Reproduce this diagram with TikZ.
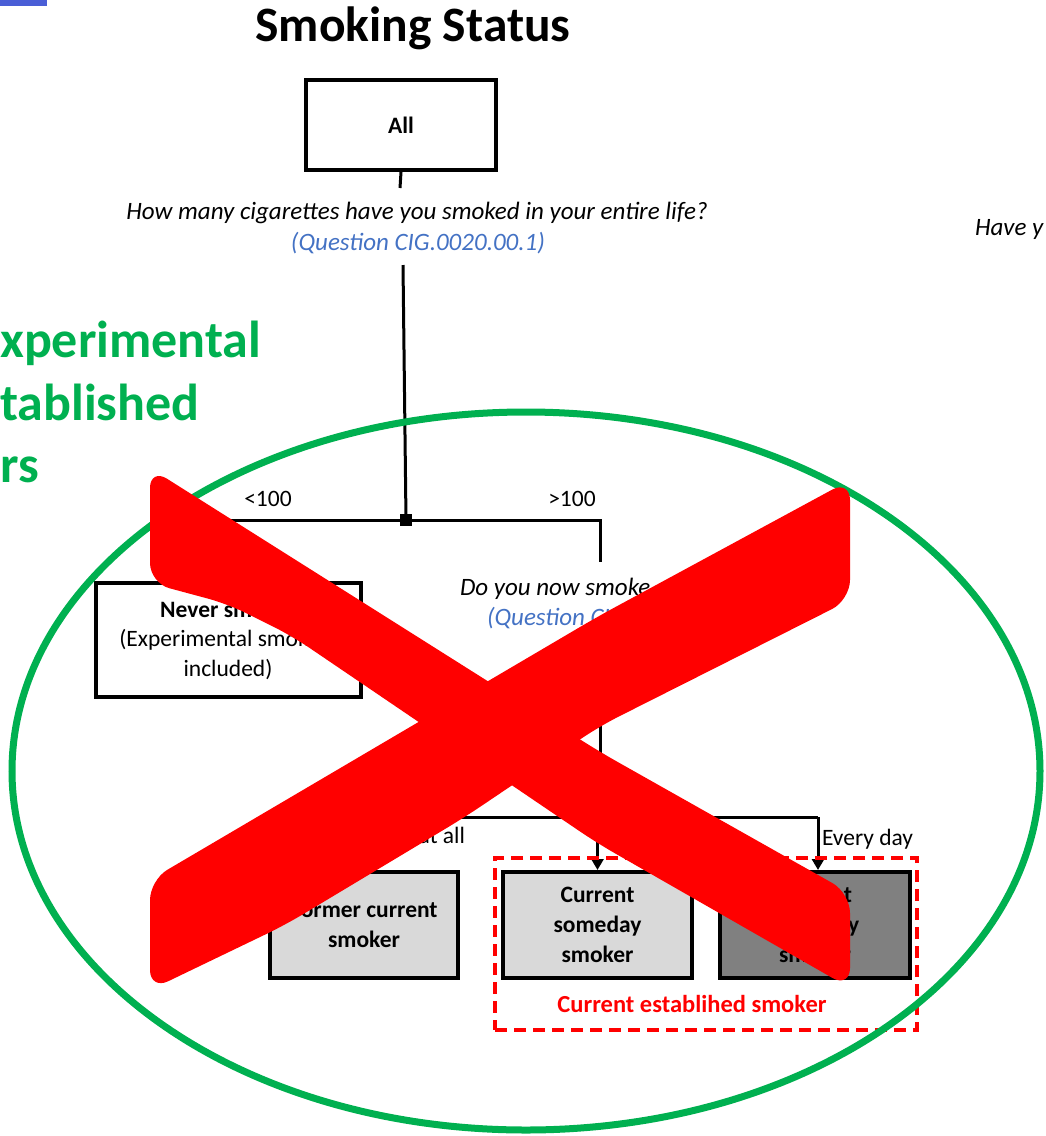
\documentclass[tikz,border=0pt]{standalone}
\usepackage{fontspec}
\setmainfont{Carlito}
\usetikzlibrary{arrows.meta,calc}

\definecolor{okgreen}{HTML}{00B050}
\definecolor{qblue}{HTML}{4472C4}
\definecolor{lightbox}{HTML}{D9D9D9}
\definecolor{darkbox}{HTML}{808080}
\definecolor{crossred}{HTML}{FF0000}
\definecolor{barblue}{HTML}{4A5ED6}

\begin{document}
\begin{tikzpicture}[x=1pt,y=-1pt,
  txt/.style={inner sep=0pt, outer sep=0pt, font=\fontsize{23.5}{30}\selectfont},
  qtext/.style={txt, font=\fontsize{25}{30}\selectfont\itshape},
  qcode/.style={qtext, text=qblue},
  flowbox/.style={draw=black, line width=4pt, align=center, inner sep=0pt,
    font=\fontsize{23.5}{30}\selectfont\bfseries},
  conn/.style={draw=black, line width=3pt},
  arr/.style={conn, -{Triangle[width=12pt,length=11pt]}},
  greenfrag/.style={inner sep=0pt, text=okgreen, font=\fontsize{52}{60}\selectfont\bfseries},
  crossbar/.style={fill=crossred, rounded corners=20pt}
]
\useasboundingbox (0,0) rectangle (1045,1136);

% corner bar and cut-off side texts
\fill[barblue] (0,0) rectangle (47,6);
\node[greenfrag, anchor=base west] (g1) at (0,357) {xperimental};
\node[greenfrag, anchor=base west] (g2) at (0,420) {tablished};
\node[greenfrag, anchor=base west] (g3) at (0,482) {rs};
\node[qtext, anchor=base west] (haveq) at (975,235) {Have y};

% title
\node[inner sep=0pt, font=\fontsize{49.5}{54}\selectfont\bfseries] (title) at (413,28) {Smoking Status};

% first question
\node[flowbox, minimum width=190pt, minimum height=90pt] (all) at (401,125) {All};
\node[qtext] (q1) at (417,213) {How many cigarettes have you smoked in your entire life?};
\node[qcode] (q1code) at (418,243) {(Question CIG.0020.00.1)};
\node[fill=black, minimum size=12pt, inner sep=0pt] (j1) at (406,520) {};
\node[txt, anchor=base] (lt) at (268,506) {<100};
\node[txt, anchor=base] (gt) at (572,506) {>100};

\draw[conn] (all.south) -- (400,188);
\draw[conn] (403,265) -- (j1.center);

% left branch
\node[flowbox, fill=white, minimum width=265pt, minimum height=114pt,
      font=\fontsize{23.5}{29.5}\selectfont] (never) at (228,640)
      {\textbf{Never smoker}\\(Experimental smokers\\included)};
\coordinate (jl) at (228,520);
\draw[conn] (j1.center) -- (jl) -- (never.north);

% right branch and second question
\coordinate (q2top) at (600,562);
\draw[conn] (j1.center) -| (q2top);
\node[qtext, anchor=base west] (q2) at (460,595) {Do you now smoke cigarettes};
\node[qcode, anchor=base west] (q2code) at (487,625) {(Question CI};
\coordinate (q2bot) at (600,640);
\coordinate (j2) at (600,817);
\draw[conn] (q2bot) -- (j2);

% outcome boxes
\node[flowbox, fill=lightbox, minimum width=188pt, minimum height=106pt] (former) at (364,925)
      {Former current\\smoker};
\node[flowbox, fill=lightbox, minimum width=189pt, minimum height=106pt] (someday) at (597.5,925)
      {Current\\someday\\smoker};
\node[flowbox, fill=darkbox, minimum width=190pt, minimum height=106pt] (daily) at (815,925)
      {Current\\everyday\\smoker};

\coordinate (bl) at (364,817);
\coordinate (br) at (818,817);
\draw[conn] (bl) -- (br);
\draw[arr] (bl) -- (former.north);
\draw[arr] (j2 -| someday.north) -- (someday.north);
\draw[arr] (br) -- (daily.north -| br);
\node[txt, anchor=base east] (notall) at (465,843) {Not at all};
\node[txt, anchor=base west] (everyday) at (822,845) {Every day};

% established smoker group
\node[draw=crossred, line width=4pt, dash pattern=on 12pt off 7pt,
      minimum width=422pt, minimum height=172pt, inner sep=0pt] (est) at (706,944) {};
\node[inner sep=0pt, text=crossred, font=\fontsize{24.5}{28}\selectfont\bfseries, anchor=base]
      (estlabel) at (692,1012) {Current establihed smoker};

% green ring
\draw[okgreen, line width=7pt] (526,771) ellipse [x radius=514, y radius=359];

% red cross: falling stroke, then rising stroke
\fill[crossbar] (150,468) -- (600,752) -- (850,893) -- (850,988)
  -- (597,843) -- (292,636) -- (228,604) -- (150,583) -- cycle;
\fill[crossbar] (150,880) -- (597,617) -- (850,480) -- (850,600)
  -- (600,726) -- (465,817) -- (285,925) -- (150,990) -- cycle;
\end{tikzpicture}
\end{document}
